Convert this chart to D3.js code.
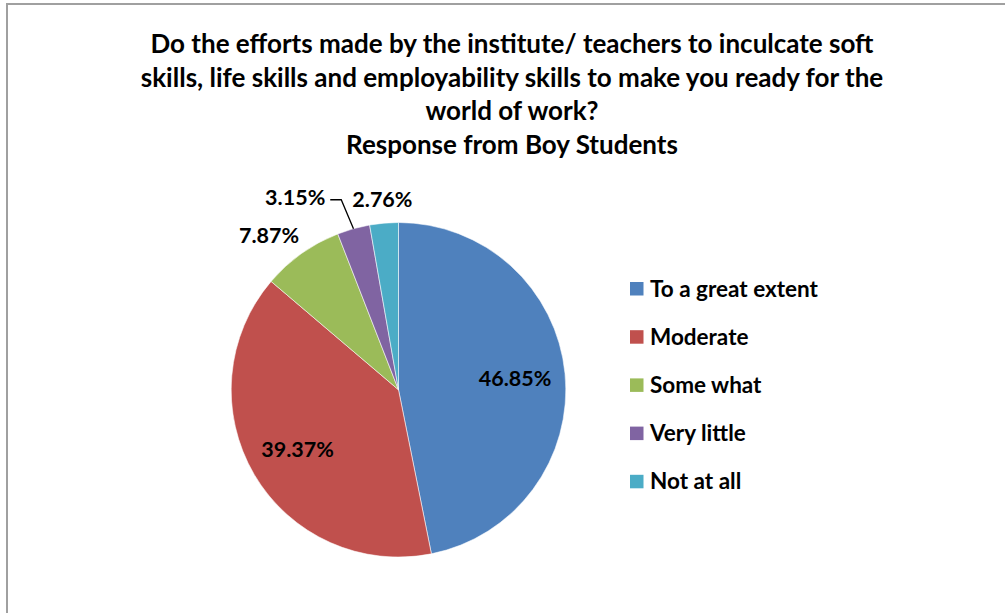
<!DOCTYPE html>
<html>
<head>
<meta charset="utf-8">
<script src="https://cdn.jsdelivr.net/npm/d3@7"></script>
<style>
  html, body { margin: 0; padding: 0; background: #fff; }
  svg { display: block; }
  text { font-family: Lato, "Open Sans", sans-serif; font-weight: bold; fill: #000; }
</style>
</head>
<body>
<svg id="chart" width="1005" height="613"></svg>
<script>
// ---- data ----
const titleLines = [
  "Do the efforts made by the institute/ teachers to inculcate soft",
  "skills, life skills and employability skills to make you ready for the",
  "world of work?",
  "Response from Boy Students"
];
const categories = ["To a great extent", "Moderate", "Some what", "Very little", "Not at all"];
const values = [46.85, 39.37, 7.87, 3.15, 2.76];
const valueLabels = ["46.85%", "39.37%", "7.87%", "3.15%", "2.76%"];
const colors = ["#4F81BD", "#C0504D", "#9BBB59", "#8064A2", "#4BACC6"];

// ---- layout ----
const cx = 398.5, cy = 389.8, R = 167.3;
const svg = d3.select("#chart");

// outer chart border (extends beyond visible area on right/bottom)
svg.append("rect")
  .attr("x", 7).attr("y", 4).attr("width", 1200).attr("height", 800)
  .attr("fill", "#fff").attr("stroke", "#a0a0a0").attr("stroke-width", 2);

// title
const title = svg.append("text").attr("text-anchor", "middle").style("font-size", "26px");
titleLines.forEach((t, i) => {
  title.append("tspan").attr("x", 512).attr("y", 53 + i * 33.6).text(t);
});

// pie
const data = categories.map((c, i) => ({ cat: c, value: values[i], label: valueLabels[i], color: colors[i] }));
const pie = d3.pie().value(d => d.value).sort(null);
const arcs = pie(data);
const arc = d3.arc().innerRadius(0).outerRadius(R);
const g = svg.append("g").attr("transform", `translate(${cx},${cy})`);

g.selectAll("path.slice").data(arcs).enter().append("path")
  .attr("class", "slice")
  .attr("d", arc)
  .attr("fill", d => d.data.color)
  .attr("stroke", "rgba(255,255,255,0.55)")
  .attr("stroke-width", 1);

// labels: inside for large slices, outside-end for small ones
const labelFont = 21.5;
const insideArc = d3.arc().innerRadius(R * 0.7).outerRadius(R * 0.7);
const outsideDist = R + 12;
const labelNudge = { "Some what": [-8, 0], "Very little": [-47, -10], "Not at all": [2, -1] };
const leaderFor = { "Very little": true };

const labelsG = g.append("g");
arcs.forEach(a => {
  const mid = (a.startAngle + a.endAngle) / 2;
  const dx = Math.sin(mid), dy = -Math.cos(mid);
  const t = labelsG.append("text")
    .attr("text-anchor", "middle")
    .attr("dominant-baseline", "central")
    .style("font-size", labelFont + "px")
    .text(a.data.label);
  if (a.data.value > 20) {
    const [x, y] = insideArc.centroid(a);
    t.attr("x", x).attr("y", y);
  } else {
    const w = t.node().getComputedTextLength();
    const h = labelFont;
    let x = dx * (outsideDist + w / 2);
    let y = dy * (outsideDist + h / 2);
    const nudge = labelNudge[a.data.cat] || [0, 0];
    x += nudge[0]; y += nudge[1];
    if (leaderFor[a.data.cat]) {
      // leader line from slice edge to label
      const px = dx * R, py = dy * R;
      const right = x + w / 2;
      const ly = y + 3;
      labelsG.append("path")
        .attr("d", `M${px},${py} L${right + 16},${ly} L${right + 5},${ly}`)
        .attr("fill", "none").attr("stroke", "#000").attr("stroke-width", 1.3);
    }
    t.attr("x", x).attr("y", y);
  }
});

// legend
const legend = svg.append("g").attr("transform", "translate(630,282)");
const rows = legend.selectAll("g").data(data).enter().append("g")
  .attr("transform", (d, i) => `translate(0,${i * 48.2})`);
rows.append("rect").attr("width", 13.5).attr("height", 13.5).attr("fill", d => d.color);
rows.append("text").attr("x", 20).attr("y", 14.5).style("font-size", "22.5px").text(d => d.cat);
</script>
</body>
</html>
